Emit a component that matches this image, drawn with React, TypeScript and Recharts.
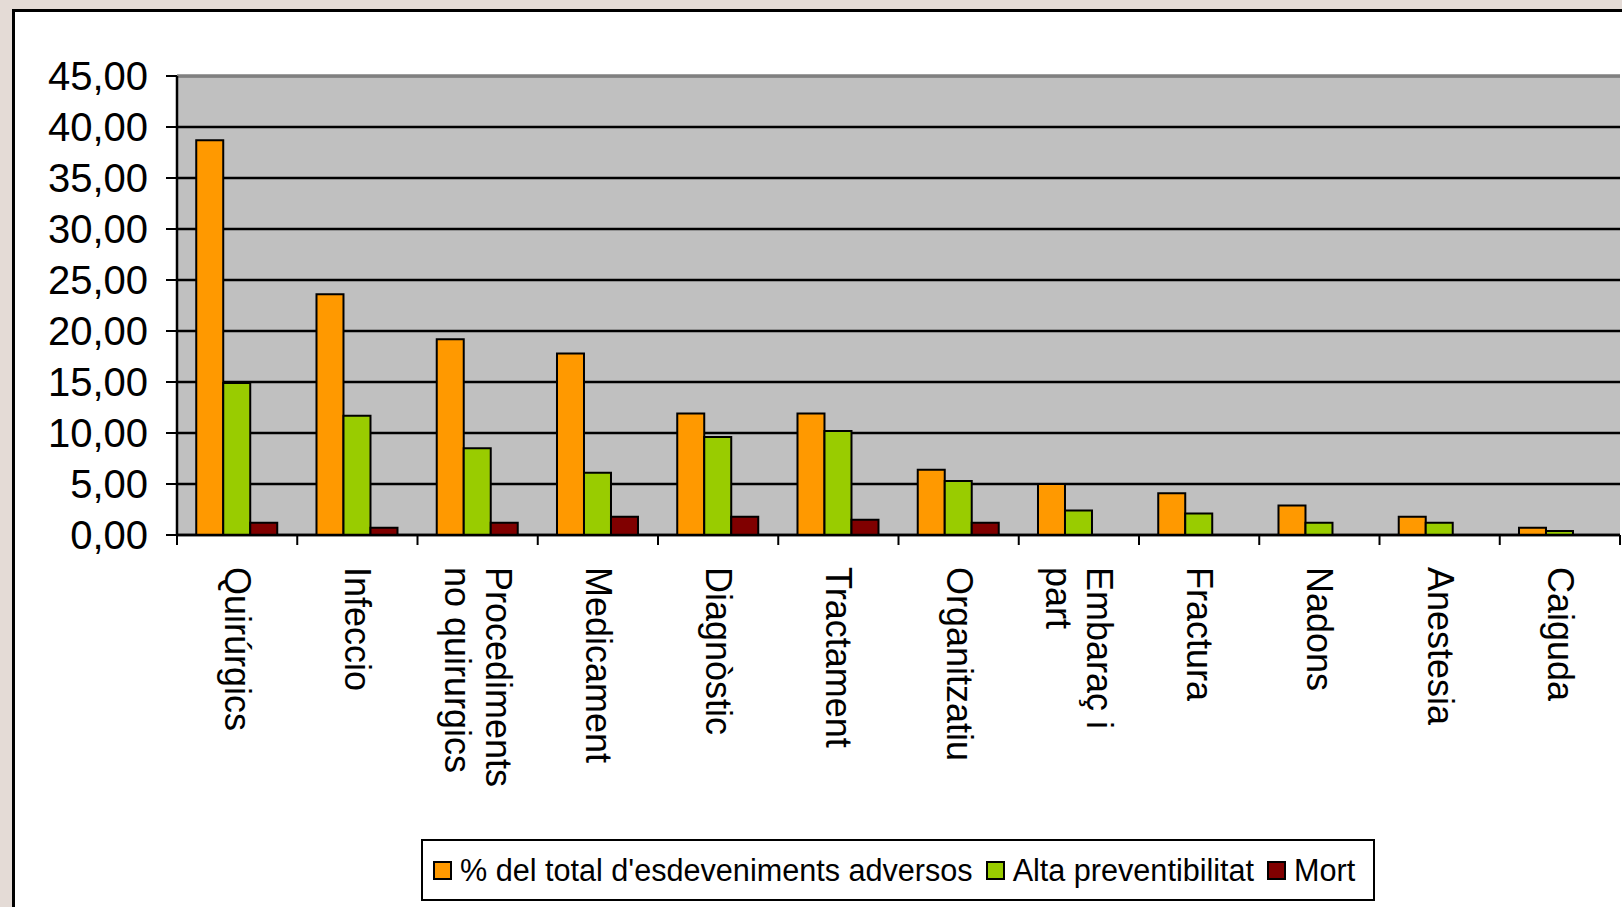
import React from "react";
import { BarChart, Bar, XAxis, YAxis, CartesianGrid, ReferenceLine } from "recharts";

const categories = [
  "Quirúrgics",
  "Infeccio",
  "Procediments no quirurgics",
  "Medicament",
  "Diagnòstic",
  "Tractament",
  "Organitzatiu",
  "Embaraç i part",
  "Fractura",
  "Nadons",
  "Anestesia",
  "Caiguda",
];

// wrapped tick labels, one entry per category
const tickLines = [
  ["Quirúrgics"],
  ["Infeccio"],
  ["Procediments", "no quirurgics"],
  ["Medicament"],
  ["Diagnòstic"],
  ["Tractament"],
  ["Organitzatiu"],
  ["Embaraç i", "part"],
  ["Fractura"],
  ["Nadons"],
  ["Anestesia"],
  ["Caiguda"],
];

const totalAdverse = [38.7, 23.6, 19.2, 17.8, 11.9, 11.9, 6.4, 5.0, 4.1, 2.9, 1.8, 0.7];
const highPrev = [14.9, 11.7, 8.5, 6.1, 9.6, 10.2, 5.3, 2.4, 2.1, 1.2, 1.2, 0.4];
const death = [1.2, 0.7, 1.2, 1.8, 1.8, 1.5, 1.2, 0, 0, 0, 0, 0];

const yTicks = [0, 5, 10, 15, 20, 25, 30, 35, 40, 45];

const series = [
  { key: "total", name: "% del total d'esdeveniments adversos", color: "#FF9900" },
  { key: "prev", name: "Alta preventibilitat", color: "#99CC00" },
  { key: "mort", name: "Mort", color: "#800000" },
];

const data = categories.map((name, i) => ({
  name,
  total: totalAdverse[i],
  prev: highPrev[i],
  mort: death[i],
}));

const FONT = "'Liberation Sans', Arial, sans-serif";
const TICK_SIZE = 10;
const TICK_MARGIN = 2;

// label rotated 90deg plus tick marks on the category boundaries (excel style)
const CategoryTick = (props: any) => {
  const { x, y, payload, index, visibleTicksCount } = props;
  const lines = tickLines[payload.index ?? index] || [payload.value];
  const n = lines.length;
  const half = payload.offset || 0;
  const top = y - TICK_SIZE - TICK_MARGIN;
  const isLast = index === visibleTicksCount - 1;
  return (
    <g>
      <line x1={x - half} x2={x - half} y1={top} y2={top + TICK_SIZE} stroke="#000" strokeWidth={2} />
      {isLast && (
        <line x1={x + half} x2={x + half} y1={top} y2={top + TICK_SIZE} stroke="#000" strokeWidth={2} />
      )}
      <text
        transform={`translate(${x},${y}) rotate(90)`}
        fontSize={36}
        fontFamily={FONT}
        fill="#000"
        textAnchor="start"
      >
        {lines.map((line, i) => (
          <tspan key={i} x={20} y={12 + (i - (n - 1) / 2) * 41}>
            {line}
          </tspan>
        ))}
      </text>
    </g>
  );
};

export default function App() {
  return (
    <div
      style={{
        position: "absolute",
        left: 0,
        top: 0,
        width: 1622,
        height: 907,
        overflow: "hidden",
        background: "#e4dbd6",
        fontFamily: FONT,
      }}
    >
      <div
        style={{
          position: "absolute",
          left: 12,
          top: 9,
          width: 1700,
          height: 1000,
          border: "3px solid #000",
          background: "#fff",
        }}
      />
      <div style={{ position: "absolute", left: 0, top: 0 }}>
        <BarChart
          width={1622}
          height={907}
          data={data}
          margin={{ top: 76, right: 2, left: 0, bottom: 122 }}
          barCategoryGap="16%"
          barGap={0}
        >
          <CartesianGrid vertical={false} stroke="#000" strokeWidth={2.5} fill="#C0C0C0" fillOpacity={1} />
          <XAxis
            dataKey="name"
            interval={0}
            tick={<CategoryTick />}
            tickLine={false}
            tickSize={TICK_SIZE}
            tickMargin={TICK_MARGIN}
            axisLine={{ stroke: "#000", strokeWidth: 2.5 }}
            height={250}
          />
          <YAxis
            domain={[0, 45]}
            ticks={yTicks}
            interval={0}
            width={177}
            tickSize={11}
            tickMargin={18}
            tickFormatter={(v: number) => v.toFixed(2).replace(".", ",")}
            tick={{ fontSize: 40, fill: "#000", fontFamily: FONT }}
            tickLine={{ stroke: "#000", strokeWidth: 2 }}
            axisLine={{ stroke: "#000", strokeWidth: 2.5 }}
          />
          <YAxis
            yAxisId="frame"
            orientation="right"
            domain={[0, 45]}
            width={0}
            tick={false}
            tickLine={false}
            axisLine={{ stroke: "#808080", strokeWidth: 3 }}
          />
          <ReferenceLine y={45} stroke="#808080" strokeWidth={3} />
          {series.map((s) => (
            <Bar
              key={s.key}
              dataKey={s.key}
              name={s.name}
              fill={s.color}
              stroke="#000"
              strokeWidth={2}
              isAnimationActive={false}
            />
          ))}
        </BarChart>
      </div>
      <div
        style={{
          position: "absolute",
          left: 421,
          top: 839,
          width: 940,
          height: 58,
          border: "2px solid #000",
          background: "#fff",
          display: "flex",
          alignItems: "center",
          paddingLeft: 10,
          boxSizing: "content-box",
          fontSize: 30.6,
          color: "#000",
          whiteSpace: "nowrap",
        }}
      >
        {series.map((s, i) => (
          <div key={s.key} style={{ display: "flex", alignItems: "center", marginLeft: i === 0 ? 0 : 13 }}>
            <span
              style={{
                display: "inline-block",
                width: 15,
                height: 15,
                border: "2px solid #000",
                background: s.color,
                marginRight: 8,
              }}
            />
            <span>{s.name}</span>
          </div>
        ))}
      </div>
    </div>
  );
}
